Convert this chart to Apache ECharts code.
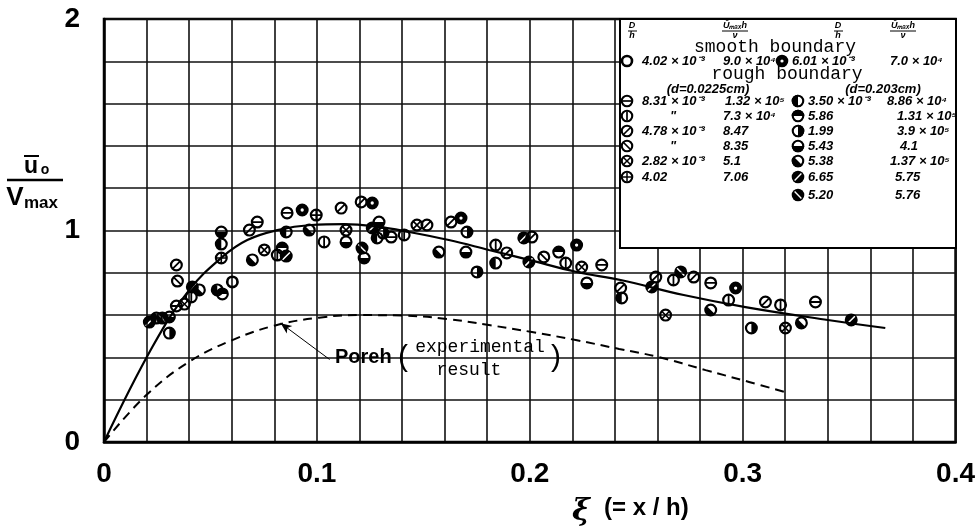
<!DOCTYPE html>
<html>
<head>
<meta charset="utf-8">
<script src="https://cdn.jsdelivr.net/npm/echarts@6/dist/echarts.min.js"></script>
<style>
html, body { margin: 0; padding: 0; background: #fff; }
#chart { width: 978px; height: 532px; }
</style>
</head>
<body>
<div id="chart"></div>
<script>
// tick labels
var xTickLabels = ['0', '0.1', '0.2', '0.3', '0.4'];
var yTickLabels = ['0', '1', '2'];

// solid curve (theory)
var theoryX = [0, 0.0227, 0.0401, 0.0556, 0.0673, 0.0814, 0.0973, 0.1128, 0.1283, 0.1433, 0.162, 0.1808, 0.1996, 0.222, 0.2427, 0.2723, 0.3013, 0.340, 0.367];
var theoryY = [0, 0.449, 0.719, 0.875, 0.955, 1.002, 1.026, 1.03, 1.018, 0.993, 0.955, 0.908, 0.861, 0.804, 0.766, 0.695, 0.638, 0.577, 0.539];

// dashed curve (Poreh, experimental result)
var porehX = [0, 0.0199, 0.0401, 0.0603, 0.080, 0.101, 0.1208, 0.140, 0.161, 0.1808, 0.201, 0.2216, 0.242, 0.2605, 0.2826, 0.303, 0.320];
var porehY = [0, 0.222, 0.38, 0.482, 0.55, 0.588, 0.600, 0.598, 0.582, 0.553, 0.52, 0.482, 0.44, 0.402, 0.340, 0.284, 0.236];

// measured points, one list per marker
var smooth402 = [[0.0603, 0.757]];
var smooth601 = [[0.0931, 1.097], [0.126, 1.13], [0.1677, 1.059], [0.222, 0.931], [0.2967, 0.728]];
var rough831 = [[0.034, 0.643], [0.072, 1.040], [0.086, 1.083], [0.1349, 0.969], [0.2338, 0.837], [0.285, 0.752], [0.3342, 0.662]];
var rough831b = [[0.041, 0.686], [0.0814, 0.884], [0.1034, 0.946], [0.141, 0.979], [0.184, 0.931], [0.2169, 0.846], [0.2675, 0.766], [0.2934, 0.671], [0.3178, 0.648]];
var rough478 = [[0.034, 0.837], [0.0683, 1.002], [0.1114, 1.106], [0.1208, 1.135], [0.1517, 1.026], [0.163, 1.040], [0.1892, 0.894], [0.201, 0.969], [0.2427, 0.728], [0.2592, 0.780], [0.277, 0.780], [0.3107, 0.662]];
var rough478b = [[0.0345, 0.761], [0.2066, 0.875]];
var rough282 = [[0.0378, 0.652], [0.0753, 0.908], [0.1137, 1.002], [0.147, 1.026], [0.2244, 0.827], [0.2638, 0.600], [0.3201, 0.539]];
var rough402 = [[0.0551, 0.870], [0.0997, 1.073]];
var coarse350 = [[0.0246, 0.586], [0.0532, 0.719], [0.0551, 0.936], [0.0856, 0.993], [0.1283, 0.965], [0.184, 0.846], [0.2432, 0.681]];
var coarse586 = [[0.0556, 0.70], [0.0837, 0.917], [0.2136, 0.898]];
var coarse199 = [[0.0307, 0.515], [0.1311, 0.988], [0.1705, 0.993], [0.1752, 0.804], [0.3041, 0.539]];
var coarse543 = [[0.0307, 0.591], [0.0551, 0.993], [0.1137, 0.946], [0.1222, 0.870], [0.1292, 1.040], [0.170, 0.898], [0.2268, 0.752]];
var coarse538 = [[0.0448, 0.719], [0.0697, 0.861], [0.0964, 1.002], [0.1573, 0.898], [0.285, 0.624], [0.3276, 0.563]];
var coarse665 = [[0.0213, 0.567], [0.0415, 0.733], [0.0856, 0.879], [0.126, 1.012], [0.1972, 0.965], [0.1996, 0.851], [0.2573, 0.733], [0.351, 0.577]];
var coarse520 = [[0.0274, 0.586], [0.1212, 0.917], [0.2709, 0.804]];

// marker shapes in a 20x20 box
var R = 9.5, r = 6.3;
function circ(rad, cw) {
  var s = cw ? 1 : 0;
  return 'M10 ' + (10 - rad) + 'A' + rad + ' ' + rad + ' 0 1 ' + s + ' 10 ' + (10 + rad) +
    'A' + rad + ' ' + rad + ' 0 1 ' + s + ' 10 ' + (10 - rad) + 'Z';
}
function bar(deg, half, w, cw) {
  var a = deg * Math.PI / 180, c = Math.cos(a), s = Math.sin(a);
  var pts = [[-half, -w], [half, -w], [half, w], [-half, w]];
  if (!cw) pts.reverse();
  return 'M' + pts.map(function (p) {
    return (10 + p[0] * c - p[1] * s).toFixed(2) + ' ' + (10 + p[0] * s + p[1] * c).toFixed(2);
  }).join('L') + 'Z';
}
function halfDisk(deg) {
  var a = deg * Math.PI / 180;
  var x1 = 10 + R * Math.cos(a), y1 = 10 + R * Math.sin(a);
  var x2 = 10 - R * Math.cos(a), y2 = 10 - R * Math.sin(a);
  return 'M' + x1.toFixed(2) + ' ' + y1.toFixed(2) + 'A' + R + ' ' + R + ' 0 0 1 ' + x2.toFixed(2) + ' ' + y2.toFixed(2) + 'Z';
}
var ring = circ(R, true) + circ(r, false);
var shapes = {
  O: circ(R, true) + circ(5.6, false),
  S: circ(R, true) + circ(2.4, false),
  H: ring + bar(0, 7, 1.3, true),
  V: ring + bar(90, 7, 1.3, true),
  D1: ring + bar(-45, 7, 1.3, true),
  D2: ring + bar(45, 7, 1.3, true),
  X: ring + bar(45, 7, 1.2, true) + bar(-45, 7, 1.2, true),
  P: ring + bar(0, 7, 1.2, true) + bar(90, 7, 1.2, true),
  L: ring + halfDisk(90),
  T: ring + halfDisk(180),
  Rt: ring + halfDisk(270),
  B: ring + halfDisk(0),
  Q: ring + halfDisk(45),
  F1: circ(R, true) + bar(-45, 7.5, 1.1, false),
  F2: circ(R, true) + bar(45, 7.5, 1.1, false)
};

function pointSeries(name, data, key) {
  return {
    name: name,
    type: 'scatter',
    data: data,
    symbol: 'path://' + shapes[key],
    symbolSize: 13,
    symbolKeepAspect: true,
    itemStyle: { color: '#000', opacity: 1 },
    z: 5
  };
}

var legendFont = 'italic bold 13px "Liberation Sans", Arial, sans-serif';
var monoFont = '18px "Liberation Mono", "DejaVu Sans Mono", monospace';
function txt(x, y, text, font, align) {
  return {
    type: 'text', x: x, y: y, z: 60,
    style: { text: text, font: font || legendFont, fill: '#000', textAlign: align || 'left', align: align || 'left', textVerticalAlign: 'middle', verticalAlign: 'middle' }
  };
}
function hline(x1, x2, y, w) {
  return { type: 'line', z: 60, shape: { x1: x1, y1: y, x2: x2, y2: y }, style: { stroke: '#000', lineWidth: w || 1 } };
}
// legend marker built from plain graphic shapes, same look as the series markers
function sym(cx, cy, key) {
  var RO = 6.3, RI = 4.2, kids = [];
  function bl(deg, len, w, col) {
    var a = deg * Math.PI / 180, dx = Math.cos(a) * len, dy = Math.sin(a) * len;
    kids.push({ type: 'line', z: 62, shape: { x1: cx - dx, y1: cy - dy, x2: cx + dx, y2: cy + dy }, style: { stroke: col || '#000', lineWidth: w } });
  }
  function hd(deg) {
    var a = deg * Math.PI / 180;
    kids.push({ type: 'sector', z: 62, shape: { cx: cx, cy: cy, r: RO, r0: 0, startAngle: a, endAngle: a + Math.PI, clockwise: true }, style: { fill: '#000' } });
  }
  if (key === 'F1' || key === 'F2') {
    kids.push({ type: 'circle', z: 61, shape: { cx: cx, cy: cy, r: RO }, style: { fill: '#000' } });
    bl(key === 'F1' ? -45 : 45, 4.8, 1.4, '#fff');
  } else {
    var inner = key === 'O' ? 3.7 : (key === 'S' ? 1.6 : RI);
    kids.push({ type: 'ring', z: 61, shape: { cx: cx, cy: cy, r: RO, r0: inner }, style: { fill: '#000' } });
    if (key === 'H') bl(0, 4.6, 1.7);
    if (key === 'V') bl(90, 4.6, 1.7);
    if (key === 'D1') bl(-45, 4.6, 1.7);
    if (key === 'D2') bl(45, 4.6, 1.7);
    if (key === 'X') { bl(45, 4.6, 1.5); bl(-45, 4.6, 1.5); }
    if (key === 'P') { bl(0, 4.6, 1.5); bl(90, 4.6, 1.5); }
    if (key === 'L') hd(90);
    if (key === 'T') hd(180);
    if (key === 'Rt') hd(270);
    if (key === 'B') hd(0);
    if (key === 'Q') hd(45);
  }
  return { type: 'group', z: 60, children: kids };
}

var smallFont = 'italic bold 9px "Liberation Sans", Arial, sans-serif';
var legendItems = [
  { type: 'rect', z: 55, shape: { x: 620, y: 19, width: 336, height: 229 }, style: { fill: '#fff', stroke: '#000', lineWidth: 2 } },
  // headers
  txt(632, 26, 'D', smallFont, 'center'), hline(628, 637, 31, 1), txt(632, 36, 'h', smallFont, 'center'),
  txt(735, 26, 'Ū\u2098\u2090\u2093h', smallFont, 'center'), hline(722, 748, 31, 1), txt(735, 36, 'ν', smallFont, 'center'),
  txt(838, 26, 'D', smallFont, 'center'), hline(834, 843, 31, 1), txt(838, 36, 'h', smallFont, 'center'),
  txt(903, 26, 'Ū\u2098\u2090\u2093h', smallFont, 'center'), hline(890, 916, 31, 1), txt(903, 36, 'ν', smallFont, 'center'),
  txt(775, 47, 'smooth boundary', monoFont, 'center'),
  sym(627, 61, 'O'), txt(642, 61, '4.02 × 10⁻³'), txt(723, 61, '9.0 × 10⁴'),
  sym(782, 61, 'S'), txt(792, 61, '6.01 × 10⁻³'), txt(890, 61, '7.0 × 10⁴'),
  txt(787, 74, 'rough boundary', monoFont, 'center'),
  txt(708, 89, '(d=0.0225cm)', 'italic bold 13px "Liberation Sans", Arial, sans-serif', 'center'),
  txt(883, 89, '(d=0.203cm)', 'italic bold 13px "Liberation Sans", Arial, sans-serif', 'center'),
  sym(627, 101, 'H'), txt(642, 101, '8.31 × 10⁻³'), txt(725, 101, '1.32 × 10⁵'),
  sym(798, 101, 'L'), txt(808, 101, '3.50 × 10⁻³'), txt(887, 101, '8.86 × 10⁴'),
  sym(627, 116, 'V'), txt(670, 116, '"'), txt(723, 116, '7.3 × 10⁴'),
  sym(798, 116, 'T'), txt(808, 116, '5.86'), txt(897, 116, '1.31 × 10⁵'),
  sym(627, 131, 'D1'), txt(642, 131, '4.78 × 10⁻³'), txt(723, 131, '8.47'),
  sym(798, 131, 'Rt'), txt(808, 131, '1.99'), txt(897, 131, '3.9 × 10⁵'),
  sym(627, 146, 'D2'), txt(670, 146, '"'), txt(723, 146, '8.35'),
  sym(798, 146, 'B'), txt(808, 146, '5.43'), txt(900, 146, '4.1'),
  sym(627, 161, 'X'), txt(642, 161, '2.82 × 10⁻³'), txt(723, 161, '5.1'),
  sym(798, 161, 'Q'), txt(808, 161, '5.38'), txt(890, 161, '1.37 × 10⁵'),
  sym(627, 177, 'P'), txt(642, 177, '4.02'), txt(723, 177, '7.06'),
  sym(798, 177, 'F1'), txt(808, 177, '6.65'), txt(895, 177, '5.75'),
  sym(798, 195, 'F2'), txt(808, 195, '5.20'), txt(895, 195, '5.76')
];

var titleFont = 'bold 23px "Liberation Sans", Arial, sans-serif';
var axisTitleItems = [
  txt(31, 167, 'u', titleFont, 'center'),
  hline(24, 39, 156, 2),
  txt(45, 170, 'o', 'bold 14px "Liberation Sans", Arial, sans-serif', 'center'),
  hline(7, 63, 180, 2.5),
  txt(15, 198, 'V', 'bold 26px "Liberation Sans", Arial, sans-serif', 'center'),
  txt(24, 203, 'max', 'bold 17px "Liberation Sans", Arial, sans-serif', 'left'),
  txt(581, 512, 'ξ', 'italic bold 30px "DejaVu Serif", serif', 'center'),
  txt(604, 508, '(= x / h)', 'bold 24px "Liberation Sans", Arial, sans-serif', 'left'),
  txt(335, 357, 'Poreh', 'bold 20px "Liberation Sans", Arial, sans-serif', 'left'),
  txt(403, 358, '(', '30px "Liberation Sans", Arial, sans-serif', 'center'),
  txt(480, 347, 'experimental', monoFont, 'center'),
  txt(469, 370, 'result', monoFont, 'center'),
  txt(556, 358, ')', '30px "Liberation Sans", Arial, sans-serif', 'center')
];

var chart = echarts.init(document.getElementById('chart'));
chart.setOption({
  animation: false,
  backgroundColor: '#fff',
  grid: { left: 104, top: 19, right: 21, bottom: 90, show: true, borderColor: '#000', borderWidth: 2.5 },
  xAxis: {
    type: 'value', min: 0, max: 0.4, interval: 0.02,
    axisLine: { show: true, lineStyle: { color: '#000', width: 2.5 } },
    axisTick: { show: false },
    splitLine: { show: true, lineStyle: { color: '#111', width: 1.6 } },
    axisLabel: {
      margin: 18, color: '#000', fontSize: 28, fontWeight: 'bold', fontFamily: '"Liberation Sans", Arial, sans-serif',
      formatter: function (v) {
        var k = Math.round(v * 10);
        return Math.abs(v * 10 - k) < 1e-6 ? xTickLabels[k] : '';
      }
    }
  },
  yAxis: {
    type: 'value', min: 0, max: 2, interval: 0.2,
    axisLine: { show: true, lineStyle: { color: '#000', width: 2.5 } },
    axisTick: { show: false },
    splitLine: { show: true, lineStyle: { color: '#111', width: 1.6 } },
    axisLabel: {
      margin: 24, color: '#000', fontSize: 28, fontWeight: 'bold', fontFamily: '"Liberation Sans", Arial, sans-serif',
      formatter: function (v) {
        var k = Math.round(v);
        return Math.abs(v - k) < 1e-6 ? yTickLabels[k] : '';
      }
    }
  },
  graphic: { elements: legendItems.concat(axisTitleItems) },
  series: [
    {
      name: 'theory', type: 'line', smooth: 0.4, showSymbol: false, z: 4,
      lineStyle: { color: '#000', width: 2.2 },
      data: theoryX.map(function (x, i) { return [x, theoryY[i]]; })
    },
    {
      name: 'Poreh', type: 'line', smooth: 0.4, showSymbol: false, z: 4,
      lineStyle: { color: '#000', width: 2, type: [9, 6] },
      data: porehX.map(function (x, i) { return [x, porehY[i]]; }),
      markLine: {
        silent: true, symbol: ['none', 'arrow'], symbolSize: [7, 11],
        label: { show: false },
        lineStyle: { color: '#000', width: 1, type: 'solid' },
        data: [[{ coord: [0.106, 0.39] }, { coord: [0.083, 0.562] }]]
      }
    },
    pointSeries('4.02e-3 smooth', smooth402, 'O'),
    pointSeries('6.01e-3 smooth', smooth601, 'S'),
    pointSeries('8.31e-3 a', rough831, 'H'),
    pointSeries('8.31e-3 b', rough831b, 'V'),
    pointSeries('4.78e-3 a', rough478, 'D1'),
    pointSeries('4.78e-3 b', rough478b, 'D2'),
    pointSeries('2.82e-3', rough282, 'X'),
    pointSeries('4.02e-3', rough402, 'P'),
    pointSeries('3.50e-3', coarse350, 'L'),
    pointSeries('5.86', coarse586, 'T'),
    pointSeries('1.99', coarse199, 'Rt'),
    pointSeries('5.43', coarse543, 'B'),
    pointSeries('5.38', coarse538, 'Q'),
    pointSeries('6.65', coarse665, 'F1'),
    pointSeries('5.20', coarse520, 'F2')
  ]
});
</script>
</body>
</html>
